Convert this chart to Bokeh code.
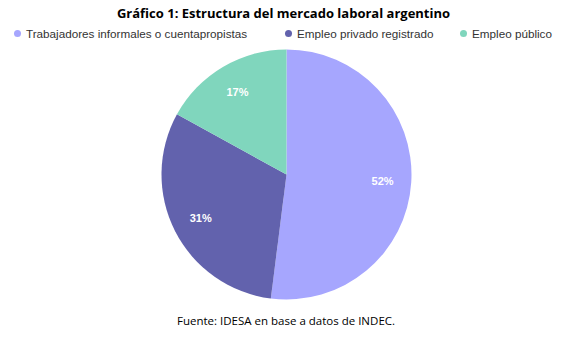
import numpy as np
from bokeh.plotting import figure
from bokeh.models import Range1d, ColumnDataSource
from bokeh.core.properties import value
from bokeh.embed import file_html
from bokeh.resources import INLINE

categories = ["Trabajadores informales o cuentapropistas", "Empleo privado registrado", "Empleo público"]
shares = [52, 31, 17]
colors = ["#a6a6fe", "#6262ad", "#80d6bd"]
title = "Gráfico 1: Estructura del mercado laboral argentino"
source_note = "Fuente: IDESA en base a datos de INDEC."

W, H = 575, 352
p = figure(width=W, height=H, output_backend="svg", toolbar_location=None,
           x_range=Range1d(0, W), y_range=Range1d(0, H), min_border=0)
p.axis.visible = False
p.grid.visible = False
p.outline_line_color = None

cx, cy, r = 286, H - 174, 125
frac = np.array(shares) / np.sum(shares)
cum = np.concatenate([[0], np.cumsum(frac)])
start = np.pi / 2 - 2 * np.pi * cum[:-1]
end = np.pi / 2 - 2 * np.pi * cum[1:]
src = ColumnDataSource(dict(start=start, end=end, color=colors))
p.wedge(x=cx, y=cy, radius=r, start_angle="start", end_angle="end", direction="clock",
        fill_color="color", line_color=None, source=src)

mid = 2 * np.pi * (cum[:-1] + cum[1:]) / 2
lx = cx + 0.77 * r * np.sin(mid)
ly = cy + 0.77 * r * np.cos(mid)
p.text(x=lx, y=ly, text=[f"{v}%" for v in shares], text_color="white",
       text_font=value("Liberation Sans"), text_font_style="bold", text_font_size="11px",
       text_align="center", text_baseline="middle")

# title
p.text(x=[283], y=[H - 12], text=[title], text_font=value("Open Sans"), text_font_style="bold",
       text_font_size="13px", text_align="center", text_baseline="middle", text_color="black")

# legend
leg_x = [17, 288, 463]
p.scatter(x=leg_x, y=[H - 33] * 3, size=7, color=colors, line_color=None)
p.text(x=[x + 8.5 for x in leg_x], y=[H - 33] * 3, text=categories, text_font=value("Liberation Sans"),
       text_font_size="11.7px", text_align="left", text_baseline="middle", text_color="#333333")

# footer
p.text(x=[285.5], y=[H - 320], text=[source_note], text_font=value("Open Sans"),
       text_font_size="11.5px", text_align="center", text_baseline="middle", text_color="black")

open("out.html", "w").write(file_html(p, INLINE))
